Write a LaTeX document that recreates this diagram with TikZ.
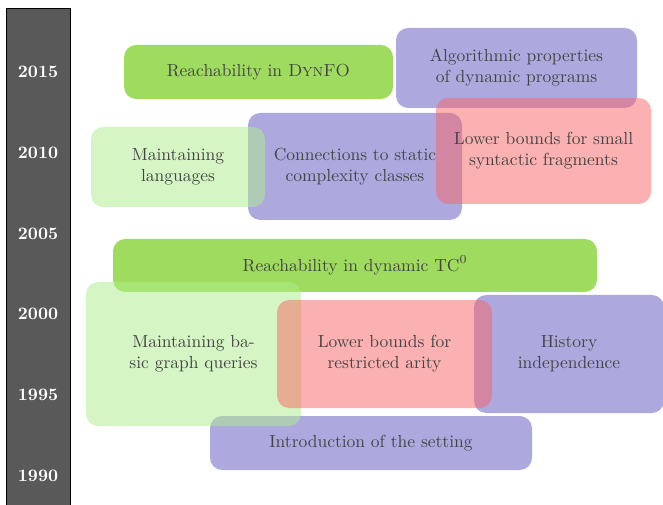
\documentclass[tikz,border=0pt]{standalone}
\definecolor{cpurple}{RGB}{93,85,193}
\definecolor{cred}{RGB}{249,101,101}
\definecolor{clight}{RGB}{173,237,141}
\definecolor{cgreen}{RGB}{136,211,55}
\definecolor{cbar}{RGB}{89,89,89}
\definecolor{ctext}{RGB}{68,68,68}
\tikzset{
  box/.style 2 args={rounded corners=7pt, inner sep=0pt, align=center,
    minimum width=#1*0.572pt, minimum height=#2*0.572pt,
    text=ctext, text opacity=1},
  pbox/.style 2 args={box={#1}{#2}, fill=cpurple, fill opacity=0.5},
  rbox/.style 2 args={box={#1}{#2}, fill=cred, fill opacity=0.5},
  lbox/.style 2 args={box={#1}{#2}, fill=clight, fill opacity=0.5},
  gbox/.style 2 args={box={#1}{#2}, fill=cgreen, fill opacity=0.8},
  year/.style={text=white, font=\bfseries, inner sep=0pt}
}
\begin{document}
\begin{tikzpicture}[x=0.572pt,y=-0.572pt]
\useasboundingbox (0,0) rectangle (663,505);
\clip (0,0) rectangle (663,505);
\fill[white] (0,0) rectangle (663,505);
\draw[fill=cbar, draw=black, line width=0.4pt] (6,8) rectangle (70,520);
\node[year] (y2015) at (38,72) {2015};
\node[year] (y2010) at (38,153) {2010};
\node[year] (y2005) at (38,234) {2005};
\node[year] (y2000) at (38,314) {2000};
\node[year] (y1995) at (38,395) {1995};
\node[year] (y1990) at (38,476) {1990};

\node[gbox={269}{54}] (dynfo) at (258.5,72) {Reachability in \textsc{DynFO}};
\node[pbox={241}{80}] (algo) at (516.5,68) {Algorithmic properties\\of dynamic programs};
\node[pbox={214}{107}] (conn) at (355,166.5) {Connections to static\\complexity classes};
\node[lbox={174}{80}] (lang) at (178,167) {Maintaining\\languages};
\node[rbox={215}{106}] (lbsmall) at (543.5,151) {Lower bounds for small\\syntactic fragments};

\node[gbox={484}{53}] (tc) at (355,265.5) {Reachability in dynamic $\mathrm{TC}^0$};
\node[pbox={322}{54}] (intro) at (371,443) {Introduction of the setting};
\node[pbox={190}{118}] (hist) at (569,354) {History\\independence};
\node[lbox={215}{144}] (basic) at (193.5,354) {Maintaining ba-\\sic graph queries};
\node[rbox={215}{108}] (lbarity) at (384.5,354) {Lower bounds for\\restricted arity};
\end{tikzpicture}
\end{document}
